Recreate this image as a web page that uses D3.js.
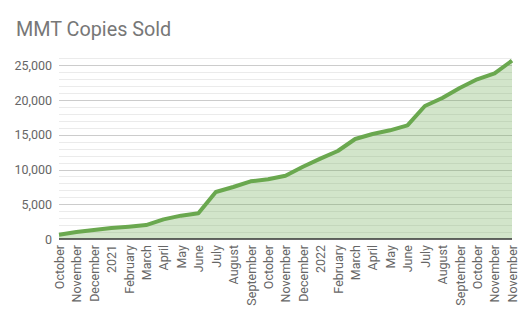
<!DOCTYPE html>
<html>
<head>
<meta charset="utf-8">
<script src="https://cdn.jsdelivr.net/npm/d3@7/dist/d3.min.js"></script>
<style>
  html, body { margin: 0; padding: 0; background: #fff; }
  svg { display: block; font-family: Roboto, "Noto Sans", sans-serif; }
</style>
</head>
<body>
<svg id="chart" width="529" height="326"></svg>
<script>
// Monthly cumulative copies sold
const months = ["October", "November", "December", "2021", "February", "March", "April", "May", "June",
  "July", "August", "September", "October", "November", "December", "2022", "February", "March",
  "April", "May", "June", "July", "August", "September", "October", "November", "November"];
const copiesSold = [620, 1000, 1300, 1580, 1770, 2010, 2830, 3360, 3690,
  6760, 7480, 8300, 8600, 9110, 10400, 11560, 12660, 14390,
  15110, 15640, 16360, 19140, 20290, 21730, 22980, 23840, 25660];
const yTicks = [0, 5000, 10000, 15000, 20000, 25000];
const title = "MMT Copies Sold";

const svg = d3.select("#chart");
const plotLeft = 59, plotRight = 512, plotTop = 58.3, plotBottom = 239;

const x = d3.scalePoint().domain(d3.range(months.length)).range([plotLeft, plotRight]);
const y = d3.scaleLinear().domain([0, 26000]).range([plotBottom, plotTop]);

// title
svg.append("text")
  .attr("x", 16).attr("y", 35.5)
  .attr("fill", "#777")
  .attr("font-size", 19.8)
  .text(title);

// minor gridlines every 1,000
const grid = svg.append("g");
grid.selectAll("line.minor")
  .data(d3.range(1000, 26001, 1000).filter(v => v % 5000 !== 0))
  .join("line")
  .attr("x1", plotLeft).attr("x2", plotRight)
  .attr("y1", d => Math.round(y(d)) + 0.5).attr("y2", d => Math.round(y(d)) + 0.5)
  .attr("stroke", "#ebebeb").attr("stroke-width", 1);

// major gridlines
grid.selectAll("line.major")
  .data(yTicks.filter(v => v > 0))
  .join("line")
  .attr("x1", plotLeft).attr("x2", plotRight)
  .attr("y1", d => Math.round(y(d)) + 0.5).attr("y2", d => Math.round(y(d)) + 0.5)
  .attr("stroke", "#cccccc").attr("stroke-width", 1);

// y axis labels
const yAxis = d3.axisLeft(y).tickValues(yTicks).tickSize(0).tickPadding(0)
  .tickFormat(d3.format(","));
svg.append("g")
  .attr("transform", `translate(${plotLeft - 7},0)`)
  .call(yAxis)
  .call(g => g.select(".domain").remove())
  .call(g => g.selectAll("text")
    .attr("fill", "#666").attr("font-size", 12.5)
    .attr("font-family", "Roboto, sans-serif"));

// area under the line
const area = d3.area()
  .x((d, i) => x(i))
  .y0(y(0))
  .y1(d => y(d));
svg.append("path")
  .datum(copiesSold)
  .attr("d", area)
  .attr("fill", "#6aa84f")
  .attr("fill-opacity", 0.3);

// baseline
svg.append("line")
  .attr("x1", plotLeft).attr("x2", plotRight)
  .attr("y1", y(0)).attr("y2", y(0))
  .attr("stroke", "#333").attr("stroke-width", 1.3);

// line
const line = d3.line().x((d, i) => x(i)).y(d => y(d));
svg.append("path")
  .datum(copiesSold)
  .attr("d", line)
  .attr("fill", "none")
  .attr("stroke", "#6aa84f")
  .attr("stroke-width", 4)
  .attr("stroke-linejoin", "round");

// x axis labels, rotated
const xAxis = d3.axisBottom(x).tickSize(0).tickPadding(0).tickFormat(i => months[i]);
svg.append("g")
  .attr("transform", `translate(0,${plotBottom})`)
  .call(xAxis)
  .call(g => g.select(".domain").remove())
  .call(g => g.selectAll("text")
    .attr("fill", "#666").attr("font-size", 12.5)
    .attr("font-family", "Roboto, sans-serif")
    .attr("text-anchor", "end")
    .attr("dy", "0.35em")
    .attr("transform", "translate(0,6) rotate(-90)")
    .attr("x", 0).attr("y", 0));
</script>
</body>
</html>
